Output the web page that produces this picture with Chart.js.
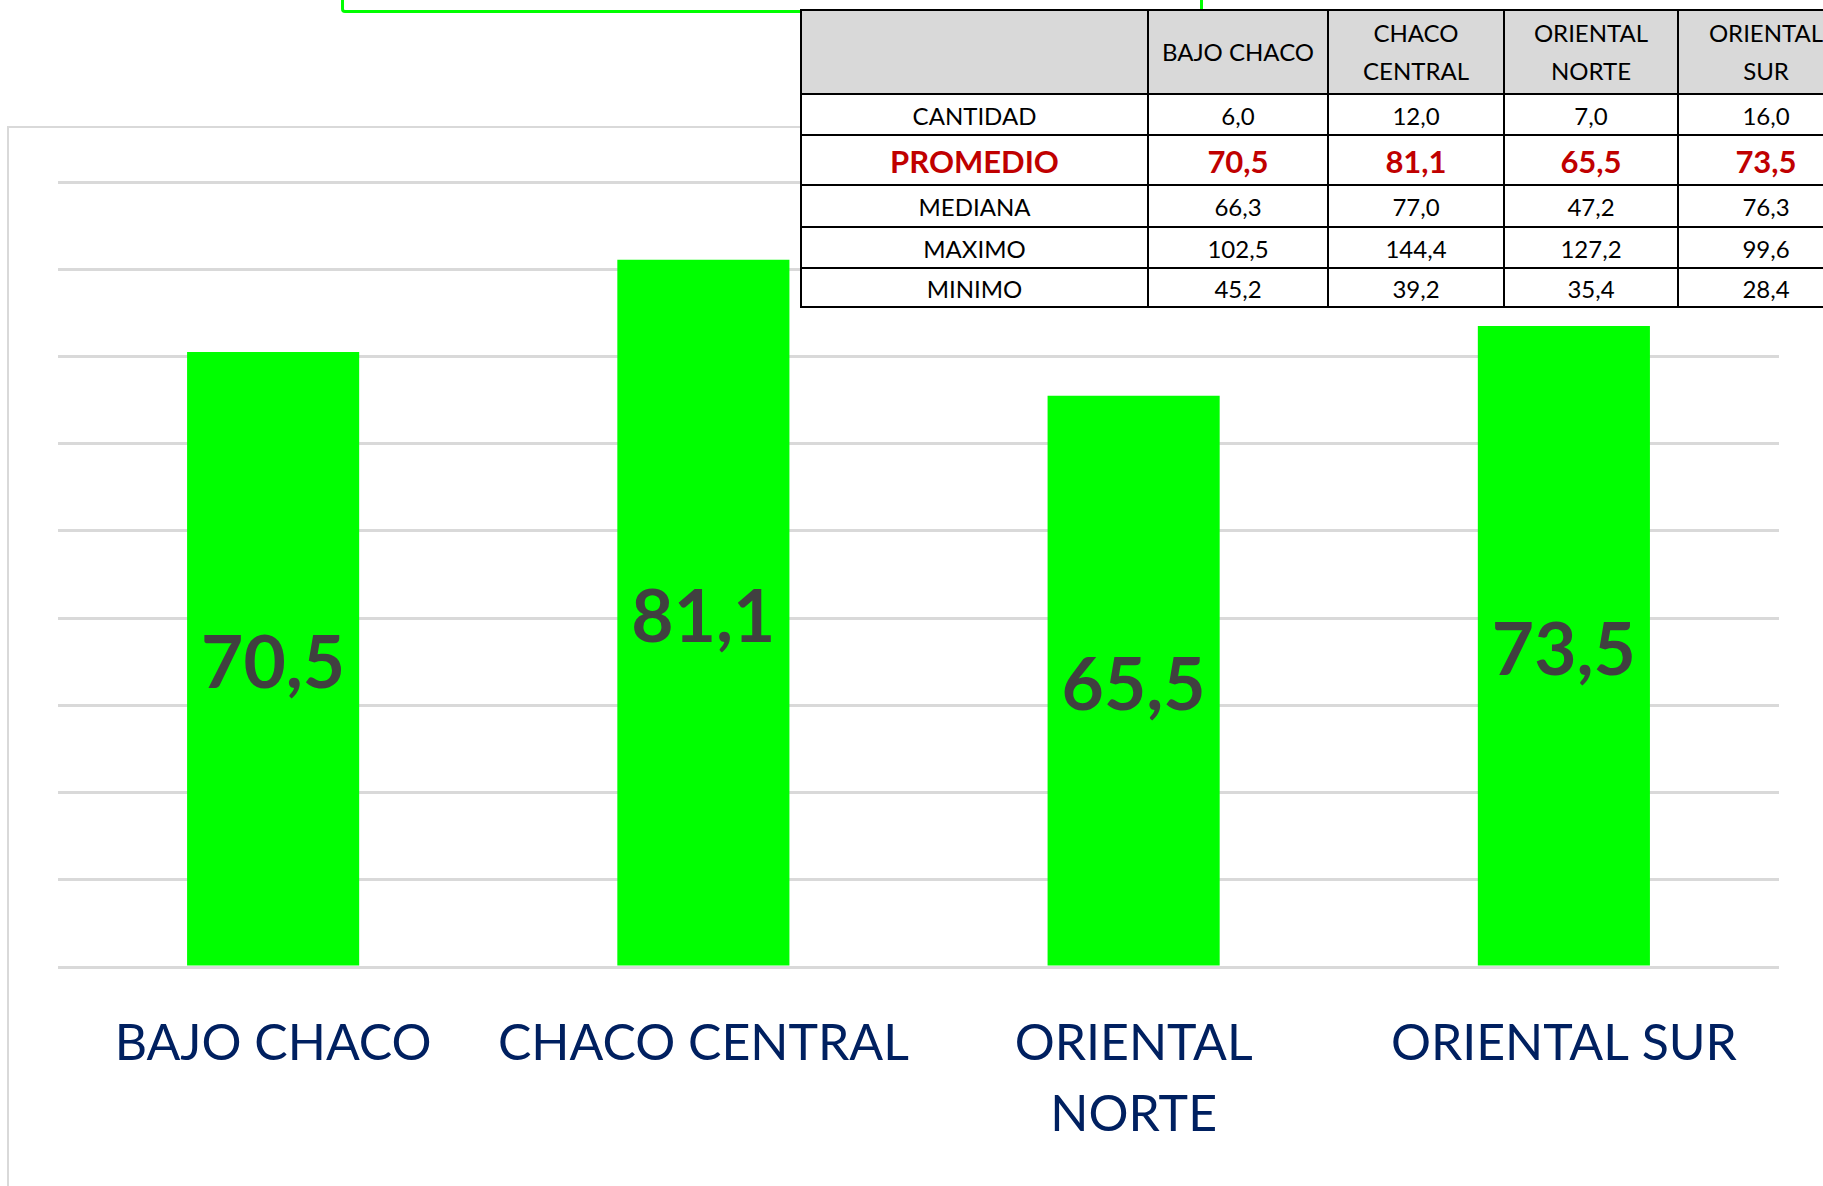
<!DOCTYPE html>
<html lang="es">
<head>
<meta charset="utf-8">
<title>Promedio por región</title>
<script src="https://cdn.jsdelivr.net/npm/chart.js"></script>
<style>
  html, body { margin: 0; padding: 0; background: #fff; overflow: hidden; }
  body { width: 1823px; height: 1186px; position: relative; font-family: Lato, "Open Sans", sans-serif; }
  #frame { position: absolute; left: 7px; top: 126px; width: 2000px; height: 2000px; border: 2.5px solid #d9d9d9; box-sizing: border-box; }
  #titleBox { position: absolute; left: 341px; top: -100px; width: 862px; height: 113px; border: 3.5px solid #00ff00; border-radius: 4px; box-sizing: border-box; }
  #chart { position: absolute; left: 0; top: 0; }
  #stats { position: absolute; left: 800px; top: 9px; border-collapse: collapse; table-layout: fixed; background: #fff; color: #000; font-size: 24px; }
  #stats td, #stats th { border: 2.5px solid #000; text-align: center; padding: 0; font-weight: 400; overflow: hidden; white-space: nowrap; }
  #stats thead th { background: #d9d9d9; line-height: 38px; height: 82px; white-space: normal; }
  #stats tbody td { padding-top: 1px; }
  #stats tr.hl td { color: #c00000; font-weight: 700; font-size: 31px; }
</style>
</head>
<body>
<div id="frame"></div>
<div id="titleBox"></div>
<canvas id="chart" width="1823" height="1186"></canvas>
<table id="stats"></table>

<script>
// regiones y estadísticas
const regiones = ["BAJO CHACO", "CHACO CENTRAL", "ORIENTAL NORTE", "ORIENTAL SUR"];
const ejeLabels = ["BAJO CHACO", "CHACO CENTRAL", ["ORIENTAL", "NORTE"], "ORIENTAL SUR"];
const cabecera = ["BAJO CHACO", "CHACO<br>CENTRAL", "ORIENTAL<br>NORTE", "ORIENTAL<br>SUR"];
const cantidad = [6.0, 12.0, 7.0, 16.0];
const promedio = [70.5, 81.1, 65.5, 73.5];
const mediana = [66.3, 77.0, 47.2, 76.3];
const maximo = [102.5, 144.4, 127.2, 99.6];
const minimo = [45.2, 39.2, 35.4, 28.4];

const fmt = (v) => v.toFixed(1).replace(".", ",");
const el = (id) => document.getElementById(id);

function buildTable() {
  const widths = [347, 180, 176, 174, 176];
  const heights = { CANTIDAD: 41, PROMEDIO: 50, MEDIANA: 42, MAXIMO: 41, MINIMO: 39 };
  const rows = [
    ["CANTIDAD", cantidad],
    ["PROMEDIO", promedio],
    ["MEDIANA", mediana],
    ["MAXIMO", maximo],
    ["MINIMO", minimo],
  ];
  let html = "<colgroup>" + widths.map((w) => `<col style="width:${w}px">`).join("") + "</colgroup>";
  html += "<thead><tr><th></th>" + cabecera.map((h) => `<th>${h}</th>`).join("") + "</tr></thead><tbody>";
  rows.forEach(([name, vals]) => {
    const cls = name === "PROMEDIO" ? ' class="hl"' : "";
    html += `<tr${cls} style="height:${heights[name]}px"><td>${name}</td>` + vals.map((v) => `<td>${fmt(v)}</td>`).join("") + "</tr>";
  });
  html += "</tbody>";
  const table = el("stats");
  table.innerHTML = html;
  table.style.width = widths.reduce((a, b) => a + b, 0) + "px";
}

// valor centrado dentro de cada barra
const barValues = {
  id: "barValues",
  afterDatasetsDraw(chart) {
    const { ctx } = chart;
    const meta = chart.getDatasetMeta(0);
    ctx.save();
    ctx.font = "700 73px Lato";
    ctx.fillStyle = "#404040";
    ctx.textAlign = "center";
    ctx.textBaseline = "middle";
    meta.data.forEach((bar, i) => {
      const v = chart.data.datasets[0].data[i];
      ctx.fillText(fmt(v), bar.x, (bar.y + bar.base) / 2 + 6);
    });
    ctx.restore();
  },
};

function renderChart() {
  return new Chart(el("chart"), {
    type: "bar",
    data: {
      labels: ejeLabels,
      datasets: [{
        label: "PROMEDIO",
        data: promedio,
        backgroundColor: "#00ff00",
        borderWidth: 0,
        barPercentage: 0.4,
        categoryPercentage: 1,
      }],
    },
    options: {
      responsive: false,
      animation: false,
      devicePixelRatio: 1,
      layout: { padding: { left: 58, right: 44, top: 182, bottom: 0 } },
      plugins: { legend: { display: false }, tooltip: { enabled: false } },
      scales: {
        x: {
          grid: { display: false, drawTicks: false },
          border: { display: false },
          ticks: {
            autoSkip: false,
            maxRotation: 0,
            minRotation: 0,
            padding: 41,
            color: "#002060",
            font: { family: "Lato", size: 50, lineHeight: "71px" },
          },
          afterFit: (scale) => { scale.height = 219; },
        },
        y: {
          min: 0,
          max: 90,
          ticks: { display: false, stepSize: 10 },
          grid: { color: "#d9d9d9", lineWidth: 3, drawTicks: false },
          border: { display: false },
          afterFit: (scale) => { scale.width = 0; },
        },
      },
    },
    plugins: [barValues],
  });
}

buildTable();
renderChart();
</script>
</body>
</html>
